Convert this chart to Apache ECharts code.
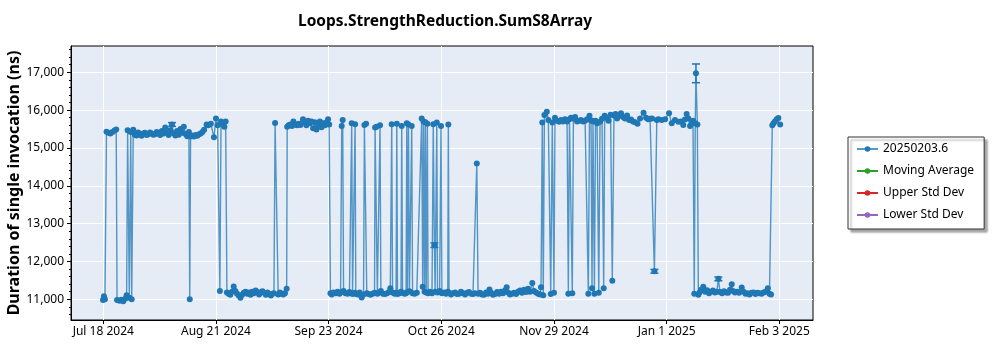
<!DOCTYPE html>
<html>
<head>
<meta charset="utf-8">
<script src="https://cdn.jsdelivr.net/npm/echarts@6/dist/echarts.min.js"></script>
<style>
  html, body { margin: 0; padding: 0; background: #fff; }
  #chart { width: 1000px; height: 350px; }
</style>
</head>
<body>
<div id="chart"></div>
<script>
// Benchmark history for one method: per-run duration in nanoseconds.
const chartTitle = 'Loops.StrengthReduction.SumS8Array';
const yAxisTitle = 'Duration of single invocation (ns)';
const seriesNames = ['20250203.6', 'Moving Average', 'Upper Std Dev', 'Lower Std Dev'];
const seriesColors = ['#1f77b4', '#2ca02c', '#d62728', '#9467bd'];

// x axis tick positions (UTC, "YYYY-MM-DD HH")
const tickTimes = ['2024-07-18 16', '2024-08-21 00', '2024-09-23 08', '2024-10-26 16',
                   '2024-11-29 00', '2025-01-01 08', '2025-02-03 16'];
const xRange = ['2024-07-09 03', '2025-02-13 15'];

const yTicks = [11000, 12000, 13000, 14000, 15000, 16000, 17000];
const yMinorTicks = [10600, 10800, 11200, 11400, 11600, 11800, 12200, 12400, 12600, 12800,
                     13200, 13400, 13600, 13800, 14200, 14400, 14600, 14800, 15200, 15400,
                     15600, 15800, 16200, 16400, 16600, 16800, 17200, 17400, 17600];
const yRange = [10453, 17695];

// [run time, duration ns]
const runs = [
  ['2024-07-18 14', 10980], ['2024-07-18 21', 11080], ['2024-07-19 04', 11000], ['2024-07-19 15', 15430],
  ['2024-07-20 05', 15400], ['2024-07-20 19', 15380], ['2024-07-21 10', 15420], ['2024-07-22 00', 15460],
  ['2024-07-22 12', 15490], ['2024-07-22 18', 10980], ['2024-07-23 11', 10960], ['2024-07-24 01', 10990],
  ['2024-07-24 14', 10950], ['2024-07-25 07', 11020], ['2024-07-25 14', 11110], ['2024-07-25 21', 15470],
  ['2024-07-26 09', 11040], ['2024-07-26 19', 15420], ['2024-07-27 02', 11000], ['2024-07-27 13', 15480],
  ['2024-07-28 00', 15350], ['2024-07-28 12', 15330], ['2024-07-29 00', 15410], ['2024-07-29 12', 15360],
  ['2024-07-30 00', 15320], ['2024-07-30 12', 15380], ['2024-07-31 00', 15400], ['2024-07-31 12', 15340],
  ['2024-08-01 00', 15360], ['2024-08-01 12', 15410], ['2024-08-02 00', 15380], ['2024-08-02 12', 15350],
  ['2024-08-03 00', 15360], ['2024-08-03 12', 15420], ['2024-08-04 00', 15380], ['2024-08-04 12', 15340],
  ['2024-08-05 00', 15450], ['2024-08-05 12', 15380], ['2024-08-06 00', 15540], ['2024-08-06 12', 15400],
  ['2024-08-07 00', 15340], ['2024-08-07 12', 15470], ['2024-08-08 00', 15620], ['2024-08-08 12', 15380],
  ['2024-08-09 00', 15330], ['2024-08-09 12', 15450], ['2024-08-10 00', 15350], ['2024-08-10 12', 15500],
  ['2024-08-11 00', 15400], ['2024-08-11 12', 15560], ['2024-08-12 00', 15370], ['2024-08-12 12', 15310],
  ['2024-08-13 00', 15420], ['2024-08-13 06', 11000], ['2024-08-13 12', 15300], ['2024-08-14 00', 15330],
  ['2024-08-14 12', 15300], ['2024-08-15 00', 15340], ['2024-08-15 12', 15320], ['2024-08-16 00', 15360],
  ['2024-08-16 12', 15380], ['2024-08-17 00', 15420], ['2024-08-17 12', 15480], ['2024-08-18 06', 15620],
  ['2024-08-18 18', 15600], ['2024-08-19 12', 15640], ['2024-08-20 10', 15280], ['2024-08-21 00', 15780],
  ['2024-08-21 12', 15600], ['2024-08-22 04', 11220], ['2024-08-22 12', 15700], ['2024-08-23 00', 15620],
  ['2024-08-23 12', 15560], ['2024-08-23 21', 15700],
  ['2024-08-24 06', 11180], ['2024-08-24 18', 11150], ['2024-08-25 06', 11120], ['2024-08-25 18', 11200],
  ['2024-08-26 06', 11340], ['2024-08-26 18', 11220], ['2024-08-27 06', 11150], ['2024-08-27 18', 11100],
  ['2024-08-28 06', 11040], ['2024-08-28 18', 11120], ['2024-08-29 06', 11170], ['2024-08-29 18', 11200],
  ['2024-08-30 06', 11150], ['2024-08-30 18', 11180], ['2024-08-31 06', 11120], ['2024-08-31 18', 11200],
  ['2024-09-01 06', 11160], ['2024-09-01 18', 11230], ['2024-09-02 06', 11190], ['2024-09-02 18', 11130],
  ['2024-09-03 06', 11180], ['2024-09-03 18', 11210], ['2024-09-04 06', 11170], ['2024-09-04 18', 11120],
  ['2024-09-05 06', 11180], ['2024-09-05 18', 11140], ['2024-09-06 06', 11100], ['2024-09-06 18', 11150],
  ['2024-09-07 04', 11160], ['2024-09-07 12', 15660], ['2024-09-08 10', 11130], ['2024-09-08 22', 11180],
  ['2024-09-09 10', 11150], ['2024-09-09 22', 11130], ['2024-09-10 10', 11160], ['2024-09-10 22', 11280],
  ['2024-09-11 02', 15560], ['2024-09-11 12', 15600], ['2024-09-12 00', 15620], ['2024-09-12 12', 15580],
  ['2024-09-12 22', 15700], ['2024-09-13 12', 15620], ['2024-09-14 00', 15600], ['2024-09-14 12', 15640],
  ['2024-09-15 00', 15610], ['2024-09-15 18', 15760], ['2024-09-16 06', 15680], ['2024-09-16 18', 15600],
  ['2024-09-17 06', 15720], ['2024-09-17 18', 15650], ['2024-09-18 06', 15700], ['2024-09-18 18', 15520],
  ['2024-09-19 06', 15680], ['2024-09-19 18', 15490], ['2024-09-20 06', 15620], ['2024-09-20 18', 15700],
  ['2024-09-21 06', 15550], ['2024-09-21 18', 15650], ['2024-09-22 06', 15600], ['2024-09-22 18', 15680],
  ['2024-09-23 04', 15760], ['2024-09-23 12', 15620], ['2024-09-23 21', 11160],
  ['2024-09-24 06', 11130], ['2024-09-24 19', 11180], ['2024-09-25 09', 11160], ['2024-09-25 23', 11200],
  ['2024-09-26 13', 11150], ['2024-09-26 21', 11180], ['2024-09-27 05', 15580], ['2024-09-27 12', 15740],
  ['2024-09-27 18', 11220], ['2024-09-28 08', 11160], ['2024-09-28 22', 11150], ['2024-09-29 12', 11190],
  ['2024-09-30 00', 11160], ['2024-09-30 04', 15650], ['2024-09-30 10', 11140], ['2024-10-01 00', 11170],
  ['2024-10-01 04', 15630], ['2024-10-01 09', 11150], ['2024-10-01 21', 11130], ['2024-10-02 12', 11180],
  ['2024-10-03 03', 11050], ['2024-10-03 16', 11130], ['2024-10-03 22', 15610], ['2024-10-04 10', 15640],
  ['2024-10-04 15', 11160], ['2024-10-05 03', 11140], ['2024-10-05 18', 11120], ['2024-10-06 08', 11150],
  ['2024-10-06 22', 11170], ['2024-10-07 02', 15540], ['2024-10-07 12', 15560], ['2024-10-07 18', 11150],
  ['2024-10-08 07', 11180], ['2024-10-08 13', 15600], ['2024-10-08 19', 11220], ['2024-10-09 10', 11150],
  ['2024-10-10 00', 11140], ['2024-10-10 15', 11160], ['2024-10-11 05', 11190], ['2024-10-11 14', 11290],
  ['2024-10-12 00', 15630], ['2024-10-12 06', 11180], ['2024-10-12 20', 11150], ['2024-10-13 07', 11170],
  ['2024-10-13 12', 15640], ['2024-10-13 17', 11140], ['2024-10-14 07', 11160], ['2024-10-14 18', 11200],
  ['2024-10-14 23', 15580], ['2024-10-15 05', 11170], ['2024-10-15 19', 11150], ['2024-10-16 06', 11160],
  ['2024-10-16 11', 15650], ['2024-10-16 16', 11190], ['2024-10-16 23', 15620], ['2024-10-17 06', 11210],
  ['2024-10-17 22', 15580], ['2024-10-18 04', 11160], ['2024-10-18 18', 11150], ['2024-10-19 10', 11170],
  ['2024-10-20 21', 15780], ['2024-10-21 04', 11330], ['2024-10-21 10', 15700], ['2024-10-21 17', 11200],
  ['2024-10-21 23', 15680], ['2024-10-22 05', 11180], ['2024-10-22 13', 15640], ['2024-10-22 18', 11160],
  ['2024-10-23 08', 11200], ['2024-10-23 22', 11160], ['2024-10-24 07', 15630], ['2024-10-24 15', 12430],
  ['2024-10-24 20', 11200], ['2024-10-25 08', 15670], ['2024-10-25 13', 11180], ['2024-10-26 04', 11220],
  ['2024-10-26 14', 15580], ['2024-10-26 20', 11160], ['2024-10-27 12', 11180], ['2024-10-28 02', 11150],
  ['2024-10-28 14', 11200], ['2024-10-28 18', 15620], ['2024-10-28 23', 11170], ['2024-10-29 13', 11130],
  ['2024-10-30 03', 11160], ['2024-10-30 18', 11180], ['2024-10-31 08', 11140], ['2024-10-31 22', 11150],
  ['2024-11-01 12', 11200], ['2024-11-02 02', 11160], ['2024-11-02 17', 11130], ['2024-11-03 07', 11170],
  ['2024-11-03 21', 11190], ['2024-11-04 11', 11150], ['2024-11-05 01', 11140], ['2024-11-05 15', 11160],
  ['2024-11-06 04', 14590], ['2024-11-06 13', 11150], ['2024-11-07 03', 11170], ['2024-11-07 17', 11130],
  ['2024-11-08 07', 11120], ['2024-11-08 22', 11180], ['2024-11-09 12', 11150], ['2024-11-09 22', 11260],
  ['2024-11-10 09', 11170], ['2024-11-10 23', 11120], ['2024-11-11 13', 11140], ['2024-11-12 04', 11190],
  ['2024-11-12 18', 11150], ['2024-11-13 08', 11200], ['2024-11-13 22', 11160], ['2024-11-14 12', 11230],
  ['2024-11-15 00', 11320], ['2024-11-15 10', 11180], ['2024-11-16 00', 11130], ['2024-11-16 14', 11150],
  ['2024-11-17 04', 11170], ['2024-11-17 19', 11140], ['2024-11-18 09', 11200], ['2024-11-18 23', 11230],
  ['2024-11-19 13', 11170], ['2024-11-20 03', 11250], ['2024-11-20 18', 11190], ['2024-11-21 08', 11280],
  ['2024-11-21 22', 11200], ['2024-11-22 14', 11430], ['2024-11-23 02', 11220], ['2024-11-23 17', 11180],
  ['2024-11-24 07', 11150], ['2024-11-24 21', 11130], ['2024-11-25 04', 11320],
  ['2024-11-25 13', 15670], ['2024-11-25 20', 11110], ['2024-11-26 04', 15870], ['2024-11-26 21', 15960],
  ['2024-11-27 08', 15740], ['2024-11-28 01', 11140], ['2024-11-28 12', 15670], ['2024-11-29 00', 11170],
  ['2024-11-29 07', 15800], ['2024-11-29 22', 15720], ['2024-11-30 12', 15690], ['2024-12-01 02', 15740],
  ['2024-12-01 16', 15700], ['2024-12-02 06', 15760], ['2024-12-02 21', 15700], ['2024-12-03 06', 11150],
  ['2024-12-03 14', 15760], ['2024-12-04 01', 15800], ['2024-12-04 10', 11160], ['2024-12-04 18', 15780],
  ['2024-12-05 06', 15820], ['2024-12-05 20', 15700], ['2024-12-06 10', 15720], ['2024-12-07 00', 15740],
  ['2024-12-07 14', 15700], ['2024-12-08 05', 15720], ['2024-12-08 19', 15760], ['2024-12-09 04', 11150],
  ['2024-12-09 12', 15850], ['2024-12-09 23', 15730], ['2024-12-10 06', 11290], ['2024-12-10 13', 15700],
  ['2024-12-10 23', 11150], ['2024-12-11 07', 15720], ['2024-12-11 18', 15650], ['2024-12-12 06', 11170],
  ['2024-12-12 15', 15690], ['2024-12-13 05', 15770], ['2024-12-13 17', 11290], ['2024-12-14 00', 15850],
  ['2024-12-14 13', 15800], ['2024-12-15 03', 15720], ['2024-12-15 18', 15880], ['2024-12-16 06', 11490],
  ['2024-12-16 18', 15860], ['2024-12-17 05', 15900], ['2024-12-17 16', 15780], ['2024-12-18 06', 15860],
  ['2024-12-18 20', 15920], ['2024-12-19 10', 15820], ['2024-12-20 00', 15780], ['2024-12-20 15', 15860],
  ['2024-12-21 05', 15740], ['2024-12-21 19', 15750], ['2024-12-22 09', 15700], ['2024-12-23 00', 15680],
  ['2024-12-23 17', 15640], ['2024-12-24 11', 15780], ['2024-12-25 12', 15930], ['2024-12-26 06', 15800],
  ['2024-12-26 20', 15760], ['2024-12-27 10', 15770], ['2024-12-28 00', 15780], ['2024-12-28 17', 11740],
  ['2024-12-29 10', 15740], ['2024-12-29 21', 15760], ['2024-12-30 21', 15740], ['2024-12-31 21', 15760],
  ['2025-01-02 01', 15920], ['2025-01-02 20', 15650], ['2025-01-03 19', 15740], ['2025-01-04 19', 15690],
  ['2025-01-05 14', 15700], ['2025-01-06 06', 15610], ['2025-01-06 18', 15750], ['2025-01-07 06', 15900],
  ['2025-01-07 18', 15780], ['2025-01-08 06', 15580], ['2025-01-08 18', 15650], ['2025-01-09 03', 15720],
  ['2025-01-09 12', 11150], ['2025-01-09 19', 15650], ['2025-01-10 00', 16975], ['2025-01-10 10', 15620],
  ['2025-01-10 17', 11120],
  ['2025-01-11 01', 11180], ['2025-01-11 12', 11250], ['2025-01-12 04', 11330], ['2025-01-12 17', 11200],
  ['2025-01-13 07', 11240], ['2025-01-13 21', 11160], ['2025-01-14 11', 11200], ['2025-01-15 01', 11230],
  ['2025-01-15 15', 11180], ['2025-01-16 04', 11200], ['2025-01-16 15', 11540], ['2025-01-17 03', 11190],
  ['2025-01-17 17', 11160], ['2025-01-18 07', 11210], ['2025-01-18 22', 11180], ['2025-01-19 12', 11170],
  ['2025-01-20 02', 11250], ['2025-01-20 14', 11400], ['2025-01-20 23', 11220], ['2025-01-21 13', 11180],
  ['2025-01-22 04', 11200], ['2025-01-22 18', 11170], ['2025-01-23 13', 11310], ['2025-01-24 02', 11200],
  ['2025-01-24 16', 11150], ['2025-01-25 06', 11160], ['2025-01-25 20', 11130], ['2025-01-26 11', 11170],
  ['2025-01-27 01', 11180], ['2025-01-27 15', 11140], ['2025-01-28 05', 11170], ['2025-01-28 19', 11160],
  ['2025-01-29 10', 11150], ['2025-01-30 00', 11180], ['2025-01-30 14', 11200], ['2025-01-31 06', 11290],
  ['2025-01-31 18', 11150], ['2025-02-01 05', 11130],
  ['2025-02-01 14', 15600], ['2025-02-01 23', 15650], ['2025-02-02 09', 15700], ['2025-02-02 21', 15760],
  ['2025-02-03 09', 15790], ['2025-02-03 22', 15620]
];

// [run time, low ns, high ns] for runs with a visible spread
const errorBars = [
  ['2024-08-08 00', 15570, 15670],
  ['2024-10-24 15', 12370, 12490],
  ['2024-12-28 17', 11690, 11790],
  ['2025-01-10 00', 16725, 17220],
  ['2025-01-16 15', 11490, 11590]
];

const MONTHS = ['Jan', 'Feb', 'Mar', 'Apr', 'May', 'Jun', 'Jul', 'Aug', 'Sep', 'Oct', 'Nov', 'Dec'];
function toTime(s) {
  const parts = s.split(' ');
  const d = parts[0].split('-').map(Number);
  return Date.UTC(d[0], d[1] - 1, d[2], Number(parts[1] || 0));
}
function fmtDate(v) {
  const d = new Date(v);
  return MONTHS[d.getUTCMonth()] + ' ' + d.getUTCDate() + ' ' + d.getUTCFullYear();
}

const FONT = 'Noto Sans';
const ticks = tickTimes.map(toTime);
const chart = echarts.init(document.getElementById('chart'), null, { renderer: 'canvas' });

const mainSeries = {
  name: seriesNames[0],
  type: 'line',
  data: runs.map(r => [toTime(r[0]), r[1]]),
  symbol: 'circle',
  symbolSize: 6,
  color: seriesColors[0],
  itemStyle: { color: seriesColors[0], borderWidth: 0 },
  lineStyle: { color: seriesColors[0], width: 1.4, opacity: 0.75 },
  emphasis: { disabled: true },
  z: 4
};

const emptySeries = seriesNames.slice(1).map((n, i) => ({
  name: n,
  type: 'line',
  data: [],
  symbol: 'circle',
  symbolSize: 6,
  color: seriesColors[i + 1],
  itemStyle: { color: seriesColors[i + 1] },
  lineStyle: { color: seriesColors[i + 1], width: 1.4 }
}));

const errorSeries = {
  name: 'spread',
  type: 'custom',
  data: errorBars.map(e => [toTime(e[0]), e[1], e[2]]),
  encode: { x: 0, y: [1, 2] },
  z: 5,
  renderItem: function (params, api) {
    const x = api.value(0);
    const lo = api.coord([x, api.value(1)]);
    const hi = api.coord([x, api.value(2)]);
    const hw = 4;
    const st = { stroke: seriesColors[0], lineWidth: 1.5 };
    return {
      type: 'group',
      children: [
        { type: 'line', shape: { x1: lo[0], y1: lo[1], x2: hi[0], y2: hi[1] }, style: st },
        { type: 'line', shape: { x1: lo[0] - hw, y1: lo[1], x2: lo[0] + hw, y2: lo[1] }, style: st },
        { type: 'line', shape: { x1: hi[0] - hw, y1: hi[1], x2: hi[0] + hw, y2: hi[1] }, style: st }
      ]
    };
  }
};

const option = {
  animation: false,
  textStyle: { fontFamily: FONT },
  title: {
    text: chartTitle,
    left: 293,
    top: 9,
    textStyle: { fontFamily: FONT, fontSize: 15.5, fontWeight: 'bold', color: '#000' }
  },
  legend: {
    data: seriesNames,
    orient: 'vertical',
    left: 848,
    top: 137,
    padding: [4, 10, 6, 8],
    itemGap: 6,
    itemWidth: 21,
    itemHeight: 7,
    backgroundColor: '#fff',
    borderColor: '#333',
    borderWidth: 1,
    borderRadius: 0,
    shadowColor: 'rgba(0,0,0,0.35)',
    shadowBlur: 2,
    shadowOffsetX: 3,
    shadowOffsetY: 3,
    textStyle: { fontFamily: FONT, fontSize: 12, color: '#000', lineHeight: 16 },
    selectedMode: false
  },
  grid: {
    left: 71, right: 187, top: 46, bottom: 30,
    outerBoundsMode: 'none',
    containLabel: false,
    show: true,
    backgroundColor: '#E5ECF6',
    borderColor: '#000',
    borderWidth: 1
  },
  xAxis: {
    type: 'value',
    min: toTime(xRange[0]),
    max: toTime(xRange[1]),
    axisLine: { show: true, lineStyle: { color: '#000', width: 1 } },
    axisTick: { show: true, customValues: ticks, length: 4, lineStyle: { color: '#000' } },
    axisLabel: { customValues: ticks, formatter: fmtDate, color: '#000', fontSize: 12, margin: 6, fontFamily: FONT },
    splitLine: { show: true, lineStyle: { color: '#fff', width: 1 } }
  },
  yAxis: [
    {
      type: 'value',
      min: yRange[0],
      max: yRange[1],
      name: yAxisTitle,
      nameLocation: 'middle',
      nameGap: 49,
      nameMoveOverlap: false,
      nameTextStyle: { fontFamily: FONT, fontSize: 16, fontWeight: 'bold', color: '#000' },
      axisLine: { show: true, lineStyle: { color: '#000', width: 1 } },
      axisTick: { show: true, customValues: yTicks, length: 4, lineStyle: { color: '#000' } },
      axisLabel: {
        customValues: yTicks,
        formatter: v => Number(v).toLocaleString('en-US'),
        color: '#000', fontSize: 12, margin: 7, fontFamily: FONT
      },
      splitLine: { show: true, lineStyle: { color: '#fff', width: 1 } }
    },
    {
      type: 'value',
      min: yRange[0],
      max: yRange[1],
      position: 'left',
      axisLine: { show: false },
      axisTick: { show: true, customValues: yMinorTicks, length: 2, lineStyle: { color: '#000' } },
      axisLabel: { show: false },
      splitLine: { show: false }
    }
  ],
  series: [mainSeries].concat(emptySeries, [errorSeries])
};

chart.setOption(option);
</script>
</body>
</html>
